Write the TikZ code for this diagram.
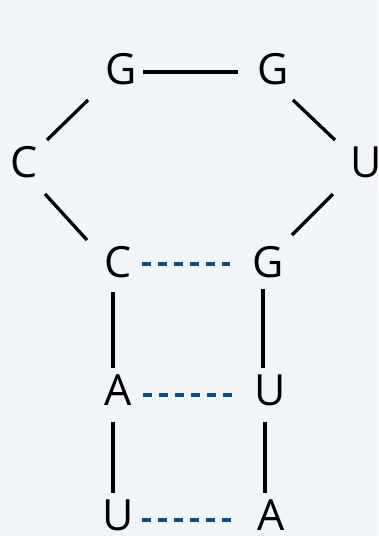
\documentclass[tikz,border=0pt]{standalone}
\usepackage{fontspec}
\setmainfont{Open Sans}
\usetikzlibrary{calc}
\definecolor{bg}{HTML}{F2F5F9}
\definecolor{pair}{HTML}{0B4A8C}
\begin{document}
\begin{tikzpicture}[x=1pt,y=-1pt,
 base/.style={font=\fontsize{43}{43}\selectfont, inner sep=0pt, anchor=center},
 bond/.style={line width=3.3pt, black},
 hbond/.style={line width=4pt, pair, dash pattern=on 9pt off 7pt}]
\fill[bg] (0,0) rectangle (378,536);
\useasboundingbox (0,0) rectangle (378,536);
\node[base] (g1) at (121,69) {G};
\node[base] (g2) at (273,69) {G};
\node[base] (c1) at (24,162) {C};
\node[base] (u1) at (366,162) {U};
\node[base] (c2) at (118,262) {C};
\node[base] (g3) at (268,262) {G};
\node[base] (a1) at (118,390) {A};
\node[base] (u2) at (270,390) {U};
\node[base] (u3) at (118,515) {U};
\node[base] (a2) at (271,515) {A};
\draw[bond] ($(g1.center)+(22,3)$) -- ($(g2.center)+(-35,3)$);
\draw[bond] ($(g1.center)+(-33,31)$) -- ($(c1.center)+(23,-22)$);
\draw[bond] ($(g2.center)+(20,31)$) -- ($(u1.center)+(-31,-22)$);
\draw[bond] ($(c1.center)+(21,32)$) -- ($(c2.center)+(-31,-22)$);
\draw[bond] ($(u1.center)+(-33,32)$) -- ($(g3.center)+(24,-27)$);
\draw[bond] ($(c2.center)+(-5,30)$) -- ($(a1.center)+(-5,-22)$);
\draw[bond] ($(g3.center)+(-5,27)$) -- ($(u2.center)+(-7,-22)$);
\draw[bond] ($(a1.center)+(-5,32)$) -- ($(u3.center)+(-5,-22)$);
\draw[bond] ($(u2.center)+(-5,32)$) -- ($(a2.center)+(-6,-22)$);
\draw[hbond] ($(c2.center)+(24,2)$) -- ($(g3.center)+(-38,2)$);
\draw[hbond] ($(a1.center)+(25,5)$) -- ($(u2.center)+(-38,5)$);
\draw[hbond] ($(u3.center)+(24,5)$) -- ($(a2.center)+(-40,5)$);
\end{tikzpicture}
\end{document}
